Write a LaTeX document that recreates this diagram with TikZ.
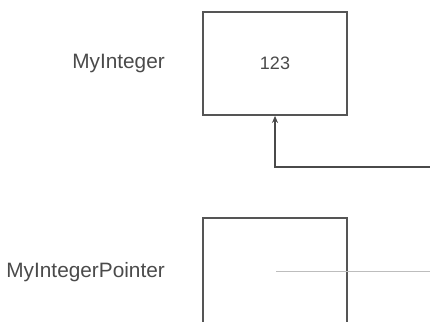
\documentclass[tikz,border=0pt]{standalone}
\usepackage{fontspec}
\setmainfont{Liberation Sans}
\usepackage{xcolor}
\usetikzlibrary{positioning,arrows.meta}
\definecolor{inkgrey}{HTML}{4A4A4A}
\definecolor{boxgrey}{HTML}{555555}
\definecolor{wiregrey}{HTML}{BDBDBD}
\tikzset{
  cell/.style={rectangle, draw=boxgrey, fill=white, line width=1.8pt,
               minimum width=144pt, font=\fontsize{18}{21}\selectfont,
               text=inkgrey, inner sep=0pt},
  varname/.style={anchor=east, font=\fontsize{20.8}{23}\selectfont,
                  text=inkgrey, inner sep=0pt},
  ptr/.style={-{Stealth[length=7pt,width=6pt]}, line width=1.3pt, draw=inkgrey},
  stub/.style={line width=1pt, draw=wiregrey},
}
\begin{document}
\begin{tikzpicture}[x=1pt,y=-1pt]
  \useasboundingbox (0,0) rectangle (430,321);

  % the integer
  \node[cell, minimum height=103pt] (myint) at (275,63.5) {123};
  \node[varname] (myintlbl) at (165,64) {MyInteger};

  % the pointer
  \node[cell, minimum height=110pt] (myptr) at (275,273) {};
  \node[varname] (myptrlbl) at (165,272) {MyIntegerPointer};

  % wires
  \coordinate (ptrsrc) at (276,271);
  \coordinate (ptrend) at (430,271);
  \draw[stub] (ptrsrc) -- (ptrend);
  \coordinate (wirein) at (430,167);
  \draw[ptr] (wirein) -| (myint.south);
\end{tikzpicture}
\end{document}
